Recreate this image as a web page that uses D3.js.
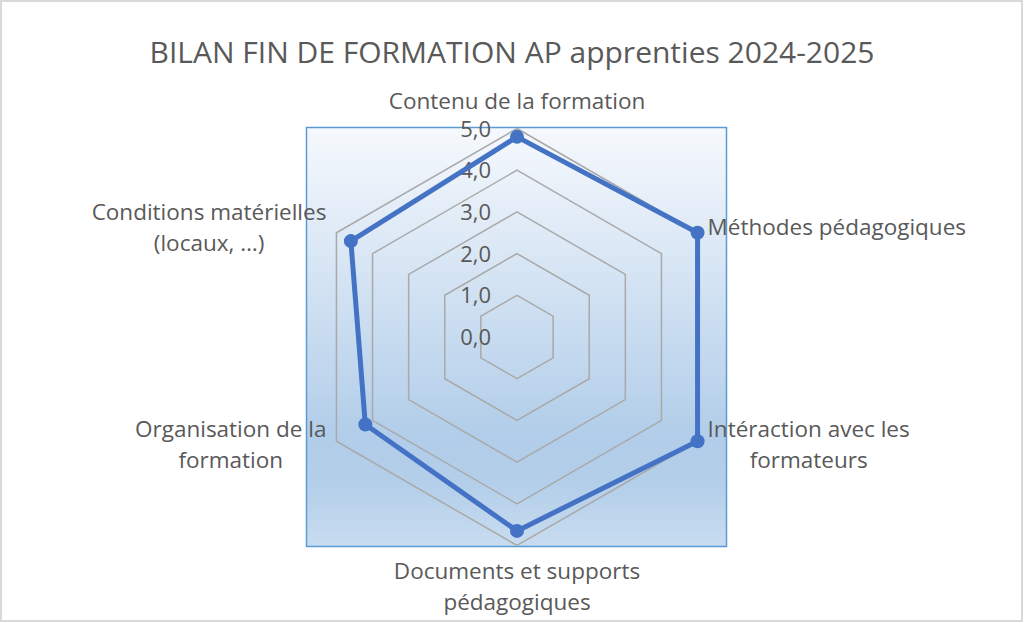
<!DOCTYPE html>
<html>
<head>
<meta charset="utf-8">
<script src="https://cdn.jsdelivr.net/npm/d3@7"></script>
<style>
  body { margin: 0; background: #fff; }
  text { font-family: "Open Sans", sans-serif; fill: #595959; }
</style>
</head>
<body>
<svg id="chart" width="1024" height="623"></svg>
<script>
var title = 'BILAN FIN DE FORMATION AP apprenties 2024-2025'
var categories = [
  ['Contenu de la formation'],
  ['Méthodes pédagogiques'],
  ['Intéraction avec les', 'formateurs'],
  ['Documents et supports', 'pédagogiques'],
  ['Organisation de la', 'formation'],
  ['Conditions matérielles', '(locaux, …)']
]
var values = [4.8, 5.0, 5.0, 4.65, 4.2, 4.6]
var ticks = [0, 1, 2, 3, 4, 5]
var tickLabels = ['0,0', '1,0', '2,0', '3,0', '4,0', '5,0']

var svg = d3.select('#chart'),
    width = +svg.attr('width'),
    height = +svg.attr('height')

var cx = 517, cy = 337

var r = d3.scaleLinear().domain([0, 5]).range([0, 208.5])
var angle = d3.scaleLinear().domain([0, categories.length]).range([0, 2 * Math.PI])

function px(i, v) { return cx + r(v) * Math.sin(angle(i)) }
function py(i, v) { return cy - r(v) * Math.cos(angle(i)) }

// chart border
svg.append('rect')
  .attr('x', 1).attr('y', 1)
  .attr('width', width - 3).attr('height', height - 3)
  .attr('fill', '#fff')
  .attr('stroke', '#d9d9d9').attr('stroke-width', 2)

// plot area gradient
var grad = svg.append('defs').append('linearGradient')
  .attr('id', 'bg').attr('x1', 0).attr('y1', 0).attr('x2', 0).attr('y2', 1)
grad.append('stop').attr('offset', '0%').attr('stop-color', '#f6f9fd')
grad.append('stop').attr('offset', '74%').attr('stop-color', '#b1cde9')
grad.append('stop').attr('offset', '84%').attr('stop-color', '#b2cee9')
grad.append('stop').attr('offset', '100%').attr('stop-color', '#c8dcf0')

svg.append('rect')
  .attr('x', cx - 210.5).attr('y', cy - 209.5)
  .attr('width', 420).attr('height', 419)
  .attr('fill', 'url(#bg)')
  .attr('stroke', '#5b9bd5').attr('stroke-width', 1.5)

// gridlines
var lineGen = d3.line()
svg.append('g').selectAll('path')
  .data(ticks.slice(1)).enter().append('path')
    .attr('d', function(t) {
      return lineGen(categories.map(function(c, i) { return [px(i, t), py(i, t)] })) + 'Z'
    })
    .attr('fill', 'none')
    .attr('stroke', '#a9a9a9')
    .attr('stroke-width', 1.5)

// tick labels
svg.append('g').selectAll('text')
  .data(ticks).enter().append('text')
    .attr('x', cx - 26)
    .attr('y', function(t) { return cy - r(t) + 8 })
    .attr('text-anchor', 'end')
    .style('font-size', '22px')
    .text(function(t, i) { return tickLabels[i] })

// series
svg.append('path')
  .attr('d', lineGen(values.map(function(v, i) { return [px(i, v), py(i, v)] })) + 'Z')
  .attr('fill', 'none')
  .attr('stroke', '#4472c4')
  .attr('stroke-width', 5)
  .attr('stroke-linejoin', 'round')

svg.append('g').selectAll('circle')
  .data(values).enter().append('circle')
    .attr('cx', function(v, i) { return px(i, v) })
    .attr('cy', function(v, i) { return py(i, v) })
    .attr('r', 7)
    .attr('fill', '#4472c4')

// category labels
var lh = 31
categories.forEach(function(lines, i) {
  var vx = px(i, 5), vy = py(i, 5)
  var s = Math.sin(angle(i)), c = Math.cos(angle(i))
  var t = svg.append('text').style('font-size', '22.5px')
  var spans = lines.map(function(l) {
    return t.append('tspan').text(l)
  })
  var widths = spans.map(function(sp) { return sp.node().getComputedTextLength() })
  var w = d3.max(widths)
  var left
  if (Math.abs(s) < 0.01) left = vx - w / 2
  else if (s > 0) left = vx + 10
  else left = vx - 10 - w
  var y0
  if (i == 0) y0 = vy - 20 - (lines.length - 1) * lh
  else if (Math.abs(s) < 0.01) y0 = vy + 33
  else y0 = vy - (lines.length - 1) * lh / 2 + 7 - 9 * c
  spans.forEach(function(sp, k) {
    sp.attr('x', left + (w - widths[k]) / 2).attr('y', y0 + k * lh)
  })
})

// title
svg.append('text')
  .attr('x', 512).attr('y', 63)
  .attr('text-anchor', 'middle')
  .style('font-size', '30px')
  .text(title)
</script>
</body>
</html>
